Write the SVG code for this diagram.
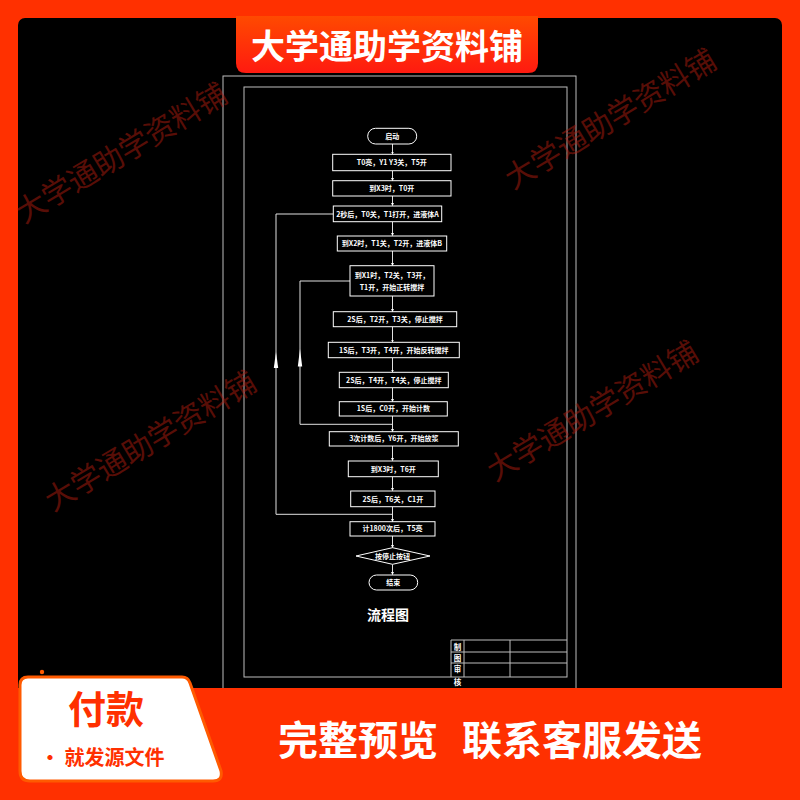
<svg xmlns="http://www.w3.org/2000/svg" width="800" height="800" viewBox="0 0 800 800">
<defs>
<linearGradient id="bannerGrad" x1="0" y1="0" x2="0" y2="1">
<stop offset="0" stop-color="#ff4a00"/>
<stop offset="1" stop-color="#ff1a10"/>
</linearGradient>
<marker id="arr" viewBox="0 0 6 6" refX="5" refY="3" markerWidth="3" markerHeight="3" orient="auto">
<path d="M0,0 L6,3 L0,6 Z" fill="#ffffff"/>
</marker>
<style>
.box{fill:none;stroke:#ffffff;stroke-width:1}
.frame{fill:none;stroke:#bdbdbd;stroke-width:1}
.lbl{font-family:"Noto Sans CJK SC","Noto Sans",sans-serif;font-size:7px;font-weight:bold;fill:#ffffff;text-anchor:middle}
.conn{fill:none;stroke:#e0e0e0;stroke-width:1}
.wm{font-family:"Noto Sans CJK SC",sans-serif;font-size:30px;fill:#b01c0e;opacity:0.5}
.tb{font-family:"Noto Sans CJK SC",sans-serif;font-size:7.5px;font-weight:bold;fill:#ffffff;text-anchor:middle}
</style>
</defs>
<rect x="0" y="0" width="800" height="800" fill="#ff3000"/>
<rect x="18" y="18" width="764" height="690" rx="7" fill="#000000"/>

<g id="frame">
<rect class="frame" x="223" y="76" width="353" height="640"/>
<rect class="frame" x="244" y="87" width="323" height="590" stroke="#e6e6e6"/>
</g>

<g id="titleblock">
<path class="frame" d="M451,640 H567 M451,652 H567 M451,663 H567 M451,640 V677 M464,640 V677 M510,640 V677"/>
<text class="tb" x="457.5" y="649.5">制</text>
<text class="tb" x="457.5" y="660.5">图</text>
<text class="tb" x="457.5" y="671.5">审</text>
<text class="tb" x="457.5" y="685">核</text>
</g>

<g id="connectors">
<path class="conn" marker-end="url(#arr)" d="M392.5,144 V154"/>
<path class="conn" marker-end="url(#arr)" d="M392.5,171 V180.5"/>
<path class="conn" marker-end="url(#arr)" d="M392.5,196 V205.5"/>
<path class="conn" marker-end="url(#arr)" d="M392.5,222 V235.5"/>
<path class="conn" marker-end="url(#arr)" d="M392.5,251 V265.5"/>
<path class="conn" marker-end="url(#arr)" d="M392.5,296 V311.5"/>
<path class="conn" marker-end="url(#arr)" d="M392.5,327 V342"/>
<path class="conn" marker-end="url(#arr)" d="M392.5,358 V372"/>
<path class="conn" marker-end="url(#arr)" d="M392.5,388 V401.5"/>
<path class="conn" marker-end="url(#arr)" d="M392.5,416 V431.5"/>
<path class="conn" marker-end="url(#arr)" d="M392.5,446 V460.5"/>
<path class="conn" marker-end="url(#arr)" d="M392.5,477 V490.5"/>
<path class="conn" marker-end="url(#arr)" d="M392.5,507 V521.5"/>
<path class="conn" marker-end="url(#arr)" d="M392.5,536 V547.5"/>
<path class="conn" marker-end="url(#arr)" d="M392.5,564.5 V574.5"/>
<path class="conn" d="M392.5,514.3 H276 V214 H333.3"/>
<path class="conn" d="M392.5,424.3 H300 V281 H350"/>
<polygon points="276,352 273.8,368 278.2,368" fill="#ffffff"/>
<polygon points="300,349 297.8,366.5 302.2,366.5" fill="#ffffff"/>
</g>

<g id="start">
<rect class="box" x="367.7" y="128.3" width="49" height="15.7" rx="7.8"/>
<text class="lbl" x="392.2" y="138.8">启动</text>
</g>
<g id="step1">
<rect class="box" x="332.7" y="154.3" width="118.3" height="16.4"/>
<text class="lbl" x="391.8" y="165">T0亮，Y1 Y3关，T5开</text>
</g>
<g id="step2">
<rect class="box" x="332.7" y="180.7" width="118.3" height="15.3"/>
<text class="lbl" x="391.8" y="191">到X3时，T0开</text>
</g>
<g id="step3">
<rect class="box" x="333.3" y="206" width="108.4" height="15.7"/>
<text class="lbl" x="387.5" y="216.5">2秒后，T0关，T1打开，进液体A</text>
</g>
<g id="step4">
<rect class="box" x="337.3" y="236" width="109.4" height="15"/>
<text class="lbl" x="392" y="246">到X2时，T1关，T2开，进液体B</text>
</g>
<g id="step5">
<rect class="box" x="350" y="265.7" width="84" height="30.3"/>
<text class="lbl" x="392" y="278">到X1时，T2关，T3开，</text>
<text class="lbl" x="392" y="290">T1开，开始正转搅拌</text>
</g>
<g id="step6">
<rect class="box" x="333.3" y="311.7" width="123.4" height="15"/>
<text class="lbl" x="395" y="321.8">2S后，T2开，T3关，停止搅拌</text>
</g>
<g id="step7">
<rect class="box" x="328.3" y="342.3" width="131" height="15.4"/>
<text class="lbl" x="393.8" y="352.6">1S后，T3开，T4开，开始反转搅拌</text>
</g>
<g id="step8">
<rect class="box" x="339.3" y="372.3" width="109" height="15.4"/>
<text class="lbl" x="393.8" y="382.6">2S后，T4开，T4关，停止搅拌</text>
</g>
<g id="step9">
<rect class="box" x="339.3" y="401.7" width="108" height="14.3"/>
<text class="lbl" x="393.3" y="411.4">1S后，C0开，开始计数</text>
</g>
<g id="step10">
<rect class="box" x="329.3" y="431.7" width="129" height="14.3"/>
<text class="lbl" x="393.8" y="441.4">3次计数后，Y6开，开始放浆</text>
</g>
<g id="step11">
<rect class="box" x="348.3" y="461" width="90" height="15.7"/>
<text class="lbl" x="393.3" y="471.5">到X3时，T6开</text>
</g>
<g id="step12">
<rect class="box" x="350.7" y="491" width="84.3" height="15.7"/>
<text class="lbl" x="392.8" y="501.5">2S后，T6关，C1开</text>
</g>
<g id="step13">
<rect class="box" x="350" y="521.7" width="85" height="14.3"/>
<text class="lbl" x="392.5" y="531.4">计1800次后，T5亮</text>
</g>
<g id="decision">
<polygon class="box" points="356,556 392.5,547.7 430,556 392.5,564.3"/>
<text class="lbl" x="392.5" y="558.5">按停止按钮</text>
</g>
<g id="end">
<rect class="box" x="369" y="575" width="48.7" height="15" rx="7.5"/>
<text class="lbl" x="393.3" y="585.2">结束</text>
</g>
<text x="388" y="620" font-family="'Noto Sans CJK SC',sans-serif" font-size="14" font-weight="bold" fill="#ffffff" text-anchor="middle">流程图</text>

<g id="watermarks">
<text class="wm" transform="translate(24,224) rotate(-31)">大学通助学资料铺</text>
<text class="wm" transform="translate(513,190) rotate(-31)">大学通助学资料铺</text>
<text class="wm" transform="translate(53,512) rotate(-31)">大学通助学资料铺</text>
<text class="wm" transform="translate(495,482) rotate(-31)">大学通助学资料铺</text>
</g>

<g id="topBanner">
<path d="M236,16 H538 V63 Q538,73 528,73 H246 Q236,73 236,63 Z" fill="url(#bannerGrad)"/>
<text x="387" y="59" font-family="'Noto Sans CJK SC',sans-serif" font-size="34" font-weight="bold" fill="#ffffff" text-anchor="middle">大学通助学资料铺</text>
</g>

<g id="bottomBanner">
<rect x="0" y="688" width="800" height="112" fill="#ff3000"/>
<circle cx="42" cy="672" r="2.2" fill="#ff5a00"/>
<path d="M28,677 H182 Q188,677 190,683 L221,771 Q223,781 213,781 H30 Q20,781 20,771 V685 Q20,677 28,677 Z" fill="#ffffff" stroke="#ff5a00" stroke-width="3"/>
<text x="106" y="723" font-family="'Noto Sans CJK SC',sans-serif" font-size="38" font-weight="bold" fill="#ff3000" text-anchor="middle">付款</text>
<text x="40" y="765" font-family="'Noto Sans CJK SC',sans-serif" font-size="20" font-weight="bold" fill="#ff3000">· 就发源文件</text>
<text x="278" y="755" font-family="'Noto Sans CJK SC',sans-serif" font-size="40" font-weight="bold" fill="#ffffff">完整预览</text>
<text x="462" y="755" font-family="'Noto Sans CJK SC',sans-serif" font-size="40" font-weight="bold" fill="#ffffff">联系客服发送</text>
</g>
</svg>
